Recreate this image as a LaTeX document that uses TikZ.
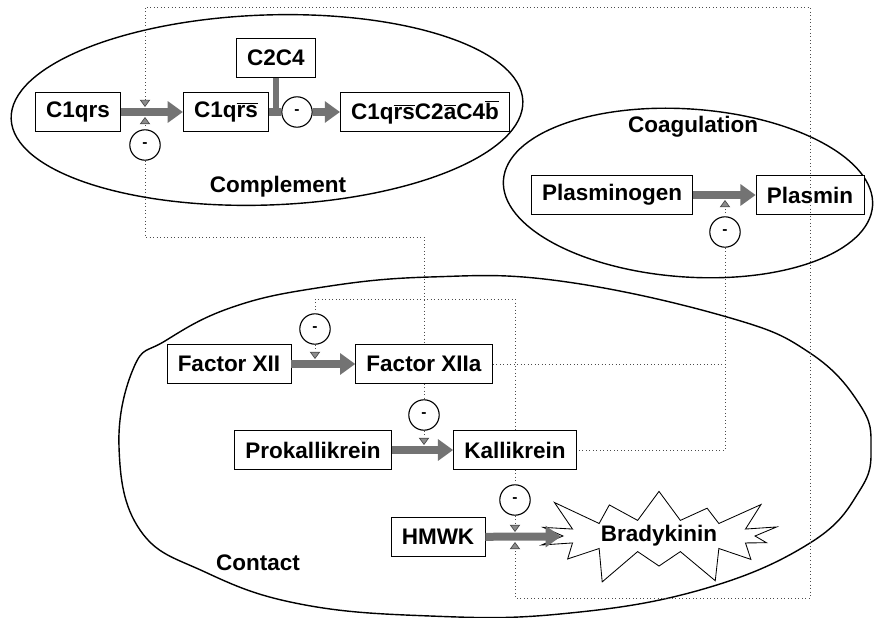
\documentclass[tikz,border=0pt]{standalone}
\usepackage{fontspec}
\setmainfont{Liberation Sans}
\usetikzlibrary{arrows.meta,shapes.symbols}

\newcommand{\ovl}[1]{$\overline{\mbox{#1}}$}

\begin{document}
\begin{tikzpicture}[x=0.25mm,y=-0.25mm,
  blocktip/.tip={Triangle[length=1.8mm,width=2.6mm,fill=black!45]},
  protein/.style={rectangle,draw,line width=0.6pt,fill=white,minimum height=9.6mm,inner xsep=2.7mm,inner ysep=0pt,font=\bfseries\fontsize{16}{19}\selectfont},
  pathway/.style={font=\bfseries\fontsize{16}{19}\selectfont},
  inhibitor/.style={circle,draw,line width=0.8pt,fill=white,minimum size=7.6mm,inner sep=0pt,font=\bfseries\fontsize{11}{11}\selectfont},
  conversion/.style={draw=black!55,line width=2mm,-{Triangle[length=3.8mm,width=5.2mm]}},
  shaft/.style={draw=black!55,line width=2mm},
  signal/.style={draw=black!70,line width=0.5pt,dotted},
  block/.style={-blocktip},
  boundary/.style={line width=1pt}]
\useasboundingbox (0,0) rectangle (874,618);
% pathways
\draw[boundary,rotate around={2:(267,110)}] (267,110) ellipse [x radius=256,y radius=95];
\draw[boundary,rotate around={-4:(688,193)}] (688,193) ellipse [x radius=185,y radius=84];
\draw[boundary] plot[smooth cycle,tension=0.7] coordinates {(430,277) (560,281) (727,317) (810,353) (860,405) (871,447) (860,490) (810,543) (700,590) (560,614) (430,616) (300,604) (205,572) (140,530) (119,447) (134,367) (165,341) (230,308) (317,288)};
\node[pathway] (complement) at (278,187) {Complement};
\node[pathway] (coagulation) at (693,127) {Coagulation};
\node[pathway] (contact) at (258,563) {Contact};
% proteins
\node[protein] (c1qrs) at (78,112) {C1qrs};
\node[protein] (c1qrsb) at (226,112) {C1q\ovl{rs}};
\node[protein] (c2c4) at (276,58) {C2C4};
\node[protein] (c1c2c4) at (425,112) {C1q\ovl{rs}C2\ovl{a}C4\ovl{b}};
\node[protein] (plg) at (612,195) {Plasminogen};
\node[protein] (pln) at (810,195) {Plasmin};
\node[protein] (fxii) at (229,364) {Factor XII};
\node[protein] (fxiia) at (424,364) {Factor XIIa};
\node[protein] (pk) at (313,450) {Prokallikrein};
\node[protein] (kal) at (515,450) {Kallikrein};
\node[protein] (hmwk) at (438,537) {HMWK};
\node[starburst,starburst points=14,starburst point height=10mm,draw,line width=0.6pt,fill=white,minimum width=68mm,minimum height=28mm,inner sep=0pt,font=\bfseries\fontsize{16}{19}\selectfont] (brady) at (659,536) {Bradykinin};
% inhibition sites
\node[inhibitor] (inhA) at (145,145) {-};
\node[inhibitor] (inhB) at (297,112) {-};
\node[inhibitor] (inhC) at (725,232) {-};
\node[inhibitor] (inhD) at (315,329) {-};
\node[inhibitor] (inhE) at (424,415) {-};
\node[inhibitor] (inhF) at (515,500) {-};
\coordinate (c1top) at (145,107);
\coordinate (c1bot) at (145,117);
\coordinate (plgbot) at (725,200);
\coordinate (fxiitop) at (315,359);
\coordinate (pktop) at (424,445);
\coordinate (hmwktop) at (515,532);
\coordinate (hmwkbot) at (515,542);
\coordinate (ne) at (810,7);
\coordinate (se) at (810,598);
\coordinate (jA) at (424,237);
\coordinate (jB) at (725,364);
\coordinate (jC) at (725,450);
\coordinate (jD) at (515,299);
% signals
\draw[signal,blocktip-blocktip] (c1top) |- (ne) -- (se) -| (hmwkbot);
\draw[signal,block] (inhA) -- (c1bot);
\draw[signal] (inhA) |- (jA) -- (fxiia);
\draw[signal,block] (inhC) -- (plgbot);
\draw[signal] (inhC) -- (jC) -- (kal);
\draw[signal] (fxiia) -- (jB);
\draw[signal,block] (inhD) -- (fxiitop);
\draw[signal] (inhD) |- (jD) -- (kal);
\draw[signal] (fxiia) -- (inhE);
\draw[signal,block] (inhE) -- (pktop);
\draw[signal] (kal) -- (inhF);
\draw[signal,block] (inhF) -- (hmwktop);
% conversions
\draw[conversion] (c1qrs) -- (c1qrsb);
\draw[shaft] (c1qrsb) -- (inhB);
\draw[shaft,line width=1.4mm] (c2c4) -- (c2c4 |- inhB);
\draw[conversion] (inhB) -- (c1c2c4);
\draw[conversion] (plg) -- (pln);
\draw[conversion] (fxii) -- (fxiia);
\draw[conversion] (pk) -- (kal);
\draw[conversion] (hmwk) -- (brady);
\end{tikzpicture}
\end{document}
